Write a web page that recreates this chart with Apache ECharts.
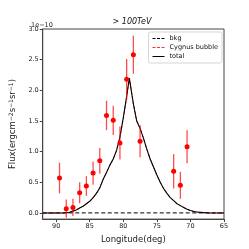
<!DOCTYPE html>
<html><head><meta charset="utf-8">
<script src="https://cdn.jsdelivr.net/npm/echarts@6/dist/echarts.min.js"></script>
<style>html,body{margin:0;padding:0;background:#fff}#c{width:249px;height:249px}</style>
</head><body><div id="c"></div>
<script>
// Measured points
const lons = [89.5,88.5,87.5,86.5,85.5,84.5,83.5,82.5,81.5,80.5,79.5,78.5,77.5,72.5,71.5,70.5];
const flux = [0.57,0.07,0.09,0.33,0.44,0.65,0.85,1.59,1.51,1.14,2.18,2.58,1.17,0.68,0.45,1.08];
const errs = [0.25,0.15,0.14,0.17,0.16,0.19,0.21,0.24,0.24,0.27,0.33,0.31,0.26,0.28,0.22,0.27];
// Model curves
const curveLon = [92,90,89,88,87.5,87,86.5,86,85.5,85,84.5,84,83.5,83,82.5,82,81.5,81,80.5,80,79.5,79.1,78.5,78,77.5,77,76.5,76,75.5,75,74.5,74,73.5,73,72.5,72,71.5,71,70.5,70,69.5,69,68,67,65];
const totalVals = [0,0,0,0.01,0.03,0.05,0.08,0.11,0.15,0.19,0.25,0.32,0.41,0.55,0.66,0.78,0.88,1.02,1.24,1.55,1.90,2.20,1.78,1.50,1.38,1.22,1.04,0.88,0.75,0.62,0.50,0.40,0.32,0.25,0.20,0.15,0.12,0.09,0.06,0.04,0.025,0.015,0.005,0,0];
const bubbleVals = [0,0,0,0.01,0.03,0.05,0.08,0.11,0.15,0.19,0.25,0.32,0.41,0.55,0.66,0.78,0.88,1.02,1.24,1.55,1.90,2.20,1.78,1.50,1.38,1.22,1.04,0.88,0.75,0.62,0.50,0.40,0.32,0.25,0.20,0.15,0.12,0.09,0.06,0.04,0.025,0.015,0.005,0,0];
const bkgVals = curveLon.map(() => 0.003);
const xTicks = [90,85,80,75,70,65];
const yTicks = [0,0.5,1.0,1.5,2.0,2.5,3.0];

const chart = echarts.init(document.getElementById('c'), null, {renderer:'canvas'});
const font = 'DejaVu Sans';
const zip = (a,b) => a.map((v,i)=>[v,b[i]]);
const errData = lons.map((x,i)=>[x, flux[i]-errs[i], flux[i]+errs[i]]);
const dashIcon = 'path://M0,0h3v1h-3z M4.5,0h3v1h-3z M9,0h3v1h-3z';
const solidIcon = 'path://M0,0h12v1h-12z';

chart.setOption({
  animation:false,
  textStyle:{fontFamily:font},
  grid:{left:31,right:25,top:29,bottom:28,show:true,borderColor:'#444',borderWidth:1},
  title:{text:'> 100TeV',left:127,textAlign:'center',top:13,textStyle:{fontSize:8,fontWeight:'normal',fontStyle:'italic',color:'#111',fontFamily:font}},
  graphic:[{type:'text',left:31,top:22,style:{text:'1e\u221210',fontSize:6.5,fill:'#222',fontFamily:font}}],
  legend:{
    orient:'vertical', right:27, top:32, itemWidth:12, itemHeight:1.8, itemGap:2,
    padding:[3,4,3,4], borderColor:'#ccc', borderWidth:0.8, borderRadius:2, backgroundColor:'#fff',
    textStyle:{fontSize:6.5,color:'#111',fontFamily:font},
    data:[
      {name:'bkg',icon:dashIcon,itemStyle:{color:'#000',borderWidth:0}},
      {name:'Cygnus bubble',icon:dashIcon,itemStyle:{color:'#ff3030',borderWidth:0}},
      {name:'total',icon:solidIcon,itemStyle:{color:'#000',borderWidth:0}}
    ]
  },
  xAxis:{type:'value',inverse:true,min:65,max:92,
    name:'Longitude(deg)',nameLocation:'middle',nameGap:14,nameTextStyle:{fontSize:8.5,color:'#222'},
    axisLine:{show:true,onZero:false,lineStyle:{color:'#444'}},
    axisTick:{show:true,length:3,customValues:xTicks,lineStyle:{color:'#444'}},
    axisLabel:{fontSize:6.5,color:'#222',margin:4,customValues:xTicks},
    splitLine:{show:false}},
  yAxis:{type:'value',min:-0.1,max:3.0,
    name:'{a|Flux(ergcm}{s|\u22122}{a|s}{s|\u22121}{a|sr}{s|\u22121}{a|)}',nameLocation:'middle',nameGap:19,
    nameTextStyle:{fontSize:8.5,color:'#222',rich:{a:{fontSize:8.5,color:'#222',fontFamily:font},s:{fontSize:6,color:'#222',verticalAlign:'top',padding:[0,0,4,0],fontFamily:font}}},
    axisLine:{show:true,onZero:false,lineStyle:{color:'#444'}},
    axisTick:{show:true,length:3,customValues:yTicks,lineStyle:{color:'#444'}},
    axisLabel:{fontSize:6.5,color:'#222',margin:4,customValues:yTicks,formatter:v=>v.toFixed(1)},
    splitLine:{show:false}},
  series:[
    {name:'bkg',type:'line',data:zip(curveLon,bkgVals),showSymbol:false,symbol:'none',
      lineStyle:{color:'#333',width:1.2,type:[4,2.5]},itemStyle:{color:'#000'},z:2},
    {name:'Cygnus bubble',type:'line',data:zip(curveLon,bubbleVals),showSymbol:false,symbol:'none',
      lineStyle:{color:'#ff2020',width:1,type:[3,2]},itemStyle:{color:'#ff3030'},z:3},
    {name:'total',type:'line',data:zip(curveLon,totalVals),showSymbol:false,symbol:'none',
      lineStyle:{color:'#000',width:1.1},itemStyle:{color:'#000'},z:4},
    {type:'custom',data:errData,z:5,clip:true,
      renderItem:(params,api)=>{
        const x=api.value(0), lo=api.value(1), hi=api.value(2);
        const p1=api.coord([x,lo]), p2=api.coord([x,hi]);
        const cs=params.coordSys;
        const yb=cs.y+cs.height;
        return {type:'line',shape:{x1:p1[0],y1:Math.min(p1[1],yb),x2:p2[0],y2:p2[1]},
          style:{stroke:'rgba(255,0,0,0.7)',lineWidth:1.3}};
      }},
    {type:'scatter',data:zip(lons,flux),symbol:'circle',symbolSize:5,itemStyle:{color:'#ff0000',opacity:1},z:6}
  ]
});
</script></body></html>
